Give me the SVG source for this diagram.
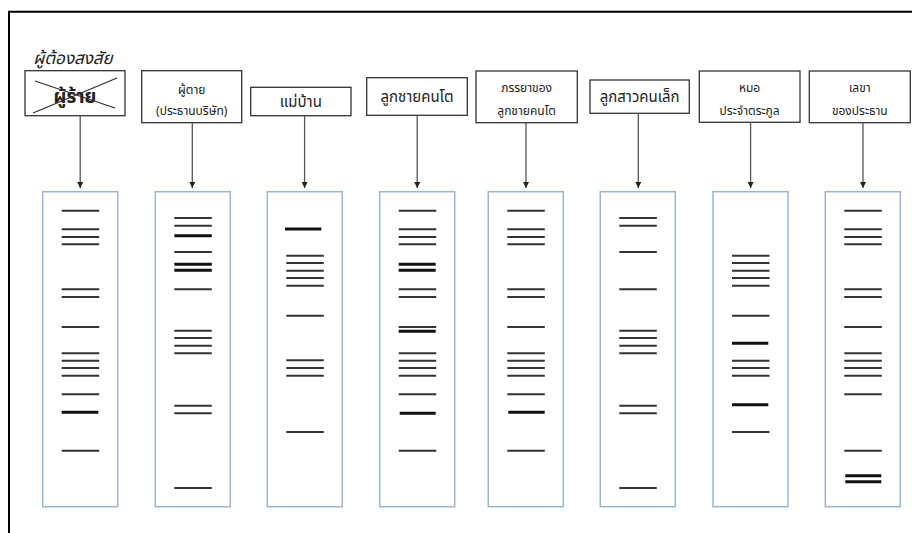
<svg xmlns="http://www.w3.org/2000/svg" width="912" height="533" viewBox="0 0 912 533">
<style>
.frame{fill:none;stroke:#000;stroke-width:2}
.box{fill:#fff;stroke:#333;stroke-width:1.3}
.lane{fill:#fff;stroke:#9bb5d9;stroke-width:1.5}
.b{stroke:#333;stroke-width:2}
.t{stroke:#111;stroke-width:3}
.conn line{stroke:#555;stroke-width:1.3}
text{font-family:"Noto Sans Thai","Tahoma","Noto Sans","DejaVu Sans",sans-serif;fill:#222;text-anchor:middle}
.s{font-size:12px}
.m{font-size:15px}
</style>
<defs>
<marker id="ah" viewBox="0 0 10 10" refX="10" refY="5" markerWidth="6" markerHeight="6" markerUnits="userSpaceOnUse" orient="auto">
<path d="M0,0 L10,5 L0,10 z" fill="#222"/>
</marker>
</defs>
<rect width="912" height="533" fill="#fff"/>
<path class="frame" d="M9,540 L9,11.7 L915,11.7"/>

<text x="73" y="64" style="font-size:17px;font-style:italic" fill="#333">ผู้ต้องสงสัย</text>

<g id="n1">
<rect class="box" x="25" y="70.7" width="100" height="45"/>
<text x="75" y="103" style="font-size:19px;font-weight:bold">ผู้ร้าย</text>
<line x1="35" y1="81" x2="115" y2="108" stroke="#333" stroke-width="1.3"/>
<line x1="33" y1="113" x2="117" y2="78" stroke="#333" stroke-width="1.3"/>
</g>
<g id="n2">
<rect class="box" x="141.7" y="70.7" width="100" height="52"/>
<text class="s" x="191.7" y="94">ผู้ตาย</text>
<text class="s" x="191.7" y="115">(ประธานบริษัท)</text>
</g>
<g id="n3">
<rect class="box" x="250.7" y="87.3" width="100.3" height="28.4"/>
<text class="m" x="300.8" y="106.5">แม่บ้าน</text>
</g>
<g id="n4">
<rect class="box" x="366.7" y="77.7" width="100.6" height="37.6"/>
<text class="m" x="417" y="102">ลูกชายคนโต</text>
</g>
<g id="n5">
<rect class="box" x="476" y="71" width="101.3" height="51.7"/>
<text class="s" x="526.6" y="92">ภรรยาของ</text>
<text class="s" x="526.6" y="114.5">ลูกชายคนโต</text>
</g>
<g id="n6">
<rect class="box" x="590" y="80" width="99.3" height="33.3"/>
<text class="m" x="639.6" y="102">ลูกสาวคนเล็ก</text>
</g>
<g id="n7">
<rect class="box" x="699.3" y="71" width="100.7" height="51.3"/>
<text class="s" x="749.6" y="92">หมอ</text>
<text class="s" x="749.6" y="114.5">ประจำตระกูล</text>
</g>
<g id="n8">
<rect class="box" x="809.3" y="71" width="101" height="51.7"/>
<text class="s" x="859.8" y="92">เลขา</text>
<text class="s" x="859.8" y="114.5">ของประธาน</text>
</g>

<g class="conn">
<line x1="80.2" y1="115.7" x2="80.2" y2="188" marker-end="url(#ah)"/>
<line x1="192.3" y1="122.7" x2="192.3" y2="188" marker-end="url(#ah)"/>
<line x1="304.6" y1="115.7" x2="304.6" y2="188" marker-end="url(#ah)"/>
<line x1="417.2" y1="115.3" x2="417.2" y2="188" marker-end="url(#ah)"/>
<line x1="526" y1="122.7" x2="526" y2="188" marker-end="url(#ah)"/>
<line x1="638.3" y1="113.3" x2="638.3" y2="188" marker-end="url(#ah)"/>
<line x1="750.6" y1="122.3" x2="750.6" y2="188" marker-end="url(#ah)"/>
<line x1="863" y1="122.7" x2="863" y2="188" marker-end="url(#ah)"/>
</g>

<g id="lane1" transform="translate(42.7,0)">
<rect class="lane" x="0" y="191.7" width="75" height="315"/>
<line class="b" x1="19" x2="56.5" y1="210.7" y2="210.7"/>
<line class="b" x1="19" x2="56.5" y1="229.3" y2="229.3"/>
<line class="b" x1="19" x2="56.5" y1="237" y2="237"/>
<line class="b" x1="19" x2="56.5" y1="244.3" y2="244.3"/>
<line class="b" x1="19" x2="56.5" y1="289.3" y2="289.3"/>
<line class="b" x1="19" x2="56.5" y1="297" y2="297"/>
<line class="b" x1="19" x2="56.5" y1="327" y2="327"/>
<line class="b" x1="19" x2="56.5" y1="353.3" y2="353.3"/>
<line class="b" x1="19" x2="56.5" y1="360.7" y2="360.7"/>
<line class="b" x1="19" x2="56.5" y1="368" y2="368"/>
<line class="b" x1="19" x2="56.5" y1="375.7" y2="375.7"/>
<line class="b" x1="19" x2="56.5" y1="394.3" y2="394.3"/>
<line class="t" x1="19" x2="55.6" y1="412.3" y2="412.3"/>
<line class="b" x1="19" x2="56.5" y1="450.7" y2="450.7"/>
</g>
<g id="lane2" transform="translate(155.3,0)">
<rect class="lane" x="0" y="191.7" width="75" height="315"/>
<line class="b" x1="19" x2="56.5" y1="218" y2="218"/>
<line class="b" x1="19" x2="56.5" y1="225.7" y2="225.7"/>
<line class="t" x1="19" x2="56.5" y1="235.7" y2="235.7"/>
<line class="b" x1="19" x2="56.5" y1="252" y2="252"/>
<line class="t" x1="19" x2="56.5" y1="264.3" y2="264.3"/>
<line class="t" x1="19" x2="56.5" y1="270.3" y2="270.3"/>
<line class="b" x1="19" x2="56.5" y1="289.3" y2="289.3"/>
<line class="b" x1="19" x2="56.5" y1="330.7" y2="330.7"/>
<line class="b" x1="19" x2="56.5" y1="338" y2="338"/>
<line class="b" x1="19" x2="56.5" y1="345.7" y2="345.7"/>
<line class="b" x1="19" x2="56.5" y1="353.3" y2="353.3"/>
<line class="b" x1="19" x2="56.5" y1="405.7" y2="405.7"/>
<line class="b" x1="19" x2="56.5" y1="413.3" y2="413.3"/>
<line class="b" x1="19" x2="56.5" y1="488" y2="488"/>
</g>
<g id="lane3" transform="translate(267.3,0)">
<rect class="lane" x="0" y="191.7" width="75" height="315"/>
<line class="t" x1="17.7" x2="54" y1="229" y2="229"/>
<line class="b" x1="19" x2="56.5" y1="255.7" y2="255.7"/>
<line class="b" x1="19" x2="56.5" y1="263" y2="263"/>
<line class="b" x1="19" x2="56.5" y1="270.7" y2="270.7"/>
<line class="b" x1="19" x2="56.5" y1="278" y2="278"/>
<line class="b" x1="19" x2="56.5" y1="285.7" y2="285.7"/>
<line class="b" x1="19" x2="56.5" y1="315.7" y2="315.7"/>
<line class="b" x1="19" x2="56.5" y1="360.3" y2="360.3"/>
<line class="b" x1="19" x2="56.5" y1="368" y2="368"/>
<line class="b" x1="19" x2="56.5" y1="375.7" y2="375.7"/>
<line class="b" x1="19" x2="56.5" y1="432" y2="432"/>
</g>
<g id="lane4" transform="translate(379.7,0)">
<rect class="lane" x="0" y="191.7" width="75" height="315"/>
<line class="b" x1="19" x2="56.5" y1="210.7" y2="210.7"/>
<line class="b" x1="19" x2="56.5" y1="229.3" y2="229.3"/>
<line class="b" x1="19" x2="56.5" y1="237" y2="237"/>
<line class="b" x1="19" x2="56.5" y1="244.3" y2="244.3"/>
<line class="t" x1="19" x2="56" y1="264.3" y2="264.3"/>
<line class="t" x1="19" x2="56" y1="270.3" y2="270.3"/>
<line class="b" x1="19" x2="56.5" y1="289.3" y2="289.3"/>
<line class="b" x1="19" x2="56.5" y1="297" y2="297"/>
<line class="b" x1="19" x2="56.5" y1="327" y2="327"/>
<line class="t" x1="19" x2="56" y1="331.3" y2="331.3"/>
<line class="b" x1="19" x2="56.5" y1="353.3" y2="353.3"/>
<line class="b" x1="19" x2="56.5" y1="360.7" y2="360.7"/>
<line class="b" x1="19" x2="56.5" y1="368" y2="368"/>
<line class="b" x1="19" x2="56.5" y1="375.7" y2="375.7"/>
<line class="b" x1="19" x2="56.5" y1="394.3" y2="394.3"/>
<line class="t" x1="20" x2="56" y1="413.3" y2="413.3"/>
<line class="b" x1="19" x2="56.5" y1="450.7" y2="450.7"/>
</g>
<g id="lane5" transform="translate(488.3,0)">
<rect class="lane" x="0" y="191.7" width="75" height="315"/>
<line class="b" x1="19" x2="56.5" y1="210.7" y2="210.7"/>
<line class="b" x1="19" x2="56.5" y1="229.3" y2="229.3"/>
<line class="b" x1="19" x2="56.5" y1="237" y2="237"/>
<line class="b" x1="19" x2="56.5" y1="244.3" y2="244.3"/>
<line class="b" x1="19" x2="56.5" y1="289.3" y2="289.3"/>
<line class="b" x1="19" x2="56.5" y1="297" y2="297"/>
<line class="b" x1="19" x2="56.5" y1="327" y2="327"/>
<line class="b" x1="19" x2="56.5" y1="353.3" y2="353.3"/>
<line class="b" x1="19" x2="56.5" y1="360.7" y2="360.7"/>
<line class="b" x1="19" x2="56.5" y1="368" y2="368"/>
<line class="b" x1="19" x2="56.5" y1="375.7" y2="375.7"/>
<line class="b" x1="19" x2="56.5" y1="394.3" y2="394.3"/>
<line class="t" x1="20" x2="56.4" y1="412.3" y2="412.3"/>
<line class="b" x1="19" x2="56.5" y1="450.7" y2="450.7"/>
</g>
<g id="lane6" transform="translate(600.3,0)">
<rect class="lane" x="0" y="191.7" width="75" height="315"/>
<line class="b" x1="19" x2="56.5" y1="218" y2="218"/>
<line class="b" x1="19" x2="56.5" y1="225.7" y2="225.7"/>
<line class="b" x1="19" x2="56.5" y1="252" y2="252"/>
<line class="b" x1="19" x2="56.5" y1="289.3" y2="289.3"/>
<line class="b" x1="19" x2="56.5" y1="330.7" y2="330.7"/>
<line class="b" x1="19" x2="56.5" y1="338" y2="338"/>
<line class="b" x1="19" x2="56.5" y1="345.7" y2="345.7"/>
<line class="b" x1="19" x2="56.5" y1="353.3" y2="353.3"/>
<line class="b" x1="19" x2="56.5" y1="405.7" y2="405.7"/>
<line class="b" x1="19" x2="56.5" y1="413.3" y2="413.3"/>
<line class="b" x1="19" x2="56.5" y1="488" y2="488"/>
</g>
<g id="lane7" transform="translate(713,0)">
<rect class="lane" x="0" y="191.7" width="75" height="315"/>
<line class="b" x1="19" x2="56.5" y1="255.7" y2="255.7"/>
<line class="b" x1="19" x2="56.5" y1="263" y2="263"/>
<line class="b" x1="19" x2="56.5" y1="270.7" y2="270.7"/>
<line class="b" x1="19" x2="56.5" y1="278" y2="278"/>
<line class="b" x1="19" x2="56.5" y1="285.7" y2="285.7"/>
<line class="b" x1="19" x2="56.5" y1="315.7" y2="315.7"/>
<line class="t" x1="19" x2="55.3" y1="343.3" y2="343.3"/>
<line class="b" x1="19" x2="56.5" y1="360.7" y2="360.7"/>
<line class="b" x1="19" x2="56.5" y1="368" y2="368"/>
<line class="b" x1="19" x2="56.5" y1="375.7" y2="375.7"/>
<line class="t" x1="19" x2="55.3" y1="404.7" y2="404.7"/>
<line class="b" x1="19" x2="56.5" y1="432" y2="432"/>
</g>
<g id="lane8" transform="translate(825.3,0)">
<rect class="lane" x="0" y="191.7" width="75" height="315"/>
<line class="b" x1="19" x2="56.5" y1="210.7" y2="210.7"/>
<line class="b" x1="19" x2="56.5" y1="229.3" y2="229.3"/>
<line class="b" x1="19" x2="56.5" y1="237" y2="237"/>
<line class="b" x1="19" x2="56.5" y1="244.3" y2="244.3"/>
<line class="b" x1="19" x2="56.5" y1="289.3" y2="289.3"/>
<line class="b" x1="19" x2="56.5" y1="297" y2="297"/>
<line class="b" x1="19" x2="56.5" y1="327" y2="327"/>
<line class="b" x1="19" x2="56.5" y1="353.3" y2="353.3"/>
<line class="b" x1="19" x2="56.5" y1="360.7" y2="360.7"/>
<line class="b" x1="19" x2="56.5" y1="368" y2="368"/>
<line class="b" x1="19" x2="56.5" y1="375.7" y2="375.7"/>
<line class="b" x1="19" x2="56.5" y1="394.3" y2="394.3"/>
<line class="b" x1="19" x2="56.5" y1="450.7" y2="450.7"/>
<line class="t" x1="20" x2="56" y1="475.7" y2="475.7"/>
<line class="t" x1="20" x2="56" y1="481.7" y2="481.7"/>
</g>
</svg>
